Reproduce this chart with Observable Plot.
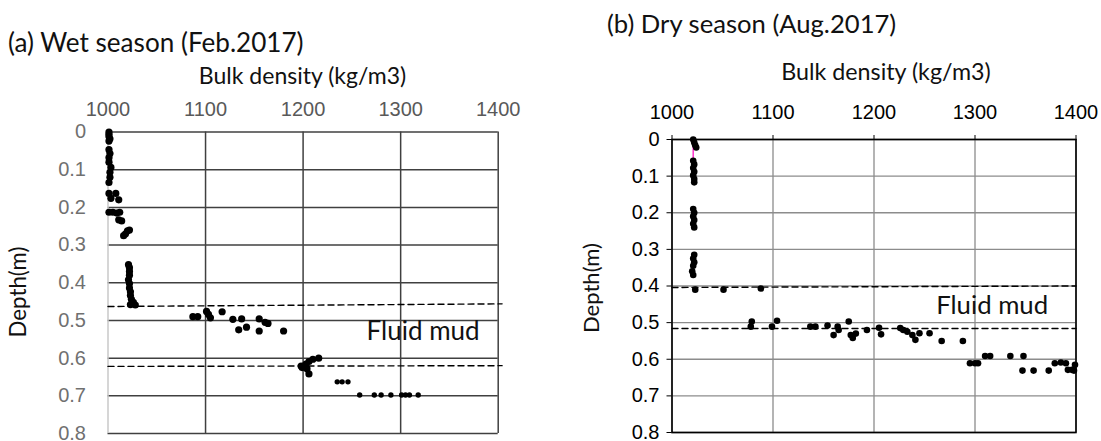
<!DOCTYPE html>
<html><head><meta charset="utf-8">
<script src="https://cdn.jsdelivr.net/npm/d3@7"></script>
<script src="https://cdn.jsdelivr.net/npm/@observablehq/plot@0.6"></script>
<style>
html,body{margin:0;padding:0;background:#fff;}
#wrap{position:relative;width:1101px;height:441px;overflow:hidden;background:#fff;}
#wrap svg{position:absolute;top:0;}
.lbl{position:absolute;white-space:nowrap;line-height:1;color:#111;font-family:Lato,"Open Sans",sans-serif;}
</style></head><body><div id="wrap"></div>
<script>
// ---------- data ----------
const densityTicks = [1000, 1100, 1200, 1300, 1400];
const depthTicks = [0, 0.1, 0.2, 0.3, 0.4, 0.5, 0.6, 0.7, 0.8];
const depthTickLabels = ["0", "0.1", "0.2", "0.3", "0.4", "0.5", "0.6", "0.7", "0.8"];

// (a) Wet season, Feb.2017
const wetDensity = [1001,1001,1001,1002,1001, 1001,1002,1001,1001,1003,1002,1002,1001,
  1001,1008,1003,1011, 1001,1005,1009,1012, 1011,1014, 1020,1022,1018,1016,
  1021,1022,1022,1022,1021,1022,1022,1023,1023,1024,1026,1023,1028,
  1087,1092,1101,1103,1105,1117,1128,1137,1134,1142,1155,1161,1164,1155,1180,
  1198,1201,1203,1206,1210,1216,1204,1206,1199];
const wetDepth = [0,0.006,0.012,0.018,0.024, 0.047,0.057,0.068,0.08,0.094,0.107,0.12,0.134,
  0.163,0.163,0.176,0.18, 0.213,0.213,0.215,0.213, 0.233,0.236, 0.262,0.26,0.27,0.275,
  0.352,0.36,0.37,0.38,0.392,0.402,0.414,0.424,0.434,0.444,0.452,0.458,0.459,
  0.49,0.49,0.476,0.484,0.493,0.477,0.497,0.496,0.525,0.518,0.496,0.505,0.508,0.528,0.528,
  0.621,0.621,0.616,0.609,0.603,0.6,0.628,0.642,0.625];
const wetDeepDensity = [1235,1240,1246,1258,1273,1280,1290,1301,1305,1309,1318];
const wetDeepDepth = [0.663,0.663,0.663,0.698,0.698,0.698,0.698,0.698,0.698,0.698,0.698];
const wetBoundDensity = [1000, 1404];
const wetUpperBound = [0.463, 0.456];
const wetLowerBound = [0.622, 0.620];

// (b) Dry season, Aug.2017
const dryDensity = [1021,1022,1023,1024,
  1021,1022,1021,1022,1021,1022,1022,
  1021,1022,1021,1022,1021,1022,
  1022,1021,1022,1021,1020,1021,
  1023,1051,1088,
  1079,1078,1099,1104,1137,1142,1154,1164,1160,1165,1175,1177,1182,1179,1193,1205,1207,
  1226,1229,1233,1238,1241,1245,1255,1267,1288,
  1295,1300,1303,1310,1315,1335,1348,1347,1358,1373,1379,1385,1390,1392,1396,1399,1398];
const dryDepth = [0,0.008,0.016,0.022,
  0.058,0.068,0.078,0.088,0.098,0.108,0.117,
  0.19,0.2,0.21,0.22,0.23,0.24,
  0.315,0.325,0.335,0.345,0.36,0.37,
  0.41,0.41,0.407,
  0.497,0.511,0.511,0.495,0.511,0.511,0.508,0.511,0.534,0.52,0.497,0.534,0.53,0.542,0.52,0.514,0.532,
  0.515,0.52,0.525,0.534,0.547,0.529,0.529,0.55,0.55,
  0.611,0.611,0.611,0.591,0.591,0.591,0.591,0.631,0.631,0.631,0.611,0.609,0.611,0.629,0.629,0.615,0.631];
const dryTraceDensity = [1021, 1021];
const dryTraceDepth = [0.022, 0.056];
const dryBoundDensity = [1000, 1400];
const dryUpperBound = [0.404, 0.400];
const dryLowerBound = [0.516, 0.516];

const mudLabel = "Fluid mud";
const wetMudAt = {density: 1323, depth: 0.531};
const dryMudAt = {density: 1317, depth: 0.455};

// ---------- helpers ----------
const zip = (xs, ys) => xs.map((x, i) => ({x, y: ys[i]}));
const ctx = document.createElement("canvas").getContext("2d");
function sizeFor(text, family, target) {
  ctx.font = `100px ${family}`;
  return 100 * target / ctx.measureText(text).width;
}
const labelFont = 'Lato, "Open Sans", sans-serif';
const tickFont = '"Liberation Sans", Arial, sans-serif';
const wrap = document.getElementById("wrap");

// ---------- panel (a) ----------
const plotA = Plot.plot({
  width: 540, height: 441,
  marginLeft: 107.5, marginRight: 42.3, marginTop: 131.5, marginBottom: 8,
  x: {domain: [1000, 1400]},
  y: {domain: [0, 0.8], reverse: true},
  style: {fontFamily: tickFont, background: "transparent", overflow: "visible"},
  marks: [
    Plot.gridX(densityTicks.slice(1), {stroke: "#404040", strokeOpacity: 1, strokeWidth: 1.5}),
    Plot.gridY(depthTicks, {stroke: "#404040", strokeOpacity: 1, strokeWidth: 1.5}),
    Plot.ruleX([densityTicks[0]], {stroke: "#c8c8c8", strokeWidth: 1.5}),
    Plot.axisX(densityTicks, {anchor: "top", tickSize: 0, tickPadding: 16, fontSize: 20, color: "#595959", tickFormat: d => String(d), label: null}),
    Plot.axisY(depthTicks, {anchor: "left", tickSize: 0, tickPadding: 22, fontSize: 20, color: "#707070", tickFormat: d => depthTickLabels[depthTicks.indexOf(d)], label: null}),
    Plot.line(zip(wetBoundDensity, wetUpperBound), {x: "x", y: "y", stroke: "#000", strokeWidth: 1.4, strokeDasharray: "6,4"}),
    Plot.line(zip(wetBoundDensity, wetLowerBound), {x: "x", y: "y", stroke: "#000", strokeWidth: 1.4, strokeDasharray: "6,4"}),
    Plot.dot(zip(wetDensity, wetDepth), {x: "x", y: "y", r: 3.6, fill: "#000", stroke: "none"}),
    Plot.dot(zip(wetDeepDensity, wetDeepDepth), {x: "x", y: "y", r: 2.7, fill: "#000", stroke: "none"}),
    Plot.text([mudLabel], {x: wetMudAt.density, y: wetMudAt.depth, text: d => d, fontFamily: labelFont,
      fontSize: sizeFor(mudLabel, labelFont, 113), fill: "#111", textAnchor: "middle", lineAnchor: "middle"})
  ]
});
plotA.style.left = "0px";
wrap.appendChild(plotA);

// ---------- panel (b) ----------
const plotB = Plot.plot({
  width: 541, height: 441,
  marginLeft: 111.5, marginRight: 25.5, marginTop: 139, marginBottom: 9,
  x: {domain: [1000, 1400]},
  y: {domain: [0, 0.8], reverse: true},
  style: {fontFamily: tickFont, background: "transparent", overflow: "visible"},
  marks: [
    Plot.gridX(densityTicks, {stroke: "#8c8c8c", strokeOpacity: 1, strokeWidth: 1.3}),
    Plot.gridY(depthTicks, {stroke: "#8c8c8c", strokeOpacity: 1, strokeWidth: 1.3}),
    Plot.frame({stroke: "#000", strokeWidth: 1.6}),
    Plot.axisX(densityTicks, {anchor: "top", tickSize: 5, tickPadding: 16, fontSize: 20, color: "#000", tickFormat: d => String(d), label: null}),
    Plot.axisY(depthTicks, {anchor: "left", tickSize: 5, tickPadding: 7.5, fontSize: 20, color: "#000", tickFormat: d => depthTickLabels[depthTicks.indexOf(d)], label: null}),
    Plot.line(zip(dryBoundDensity, dryUpperBound), {x: "x", y: "y", stroke: "#000", strokeWidth: 1.4, strokeDasharray: "6,4"}),
    Plot.line(zip(dryBoundDensity, dryLowerBound), {x: "x", y: "y", stroke: "#000", strokeWidth: 1.4, strokeDasharray: "6,4"}),
    Plot.line(zip(dryTraceDensity, dryTraceDepth), {x: "x", y: "y", stroke: "#ff33cc", strokeWidth: 1.5}),
    Plot.dot(zip(dryDensity, dryDepth), {x: "x", y: "y", r: 3.3, fill: "#000", stroke: "none"}),
    Plot.text([mudLabel], {x: dryMudAt.density, y: dryMudAt.depth, text: d => d, fontFamily: labelFont,
      fontSize: sizeFor(mudLabel, labelFont, 112), fill: "#111", textAnchor: "middle", lineAnchor: "middle"})
  ]
});
plotB.style.left = "560px";
wrap.appendChild(plotB);

// ---------- titles & axis labels ----------
function addLabel(text, x, y, width, anchor, rotate) {
  const el = document.createElement("div");
  el.className = "lbl";
  el.textContent = text;
  el.style.fontSize = sizeFor(text, labelFont, width) + "px";
  el.style.left = x + "px";
  el.style.top = y + "px";
  const tx = anchor === "start" ? "0" : "-50%";
  el.style.transform = `translate(${tx},-50%)` + (rotate ? " rotate(-90deg)" : "");
  wrap.appendChild(el);
}
addLabel("(a) Wet season (Feb.2017)", 8, 42, 296, "start");
addLabel("(b) Dry season (Aug.2017)", 607, 24, 290, "start");
addLabel("Bulk density (kg/m3)", 302.5, 76, 208, "middle");
addLabel("Bulk density (kg/m3)", 886, 72, 210, "middle");
addLabel("Depth(m)", 18, 292, 91, "middle", true);
addLabel("Depth(m)", 591, 288, 90, "middle", true);
</script></body></html>
